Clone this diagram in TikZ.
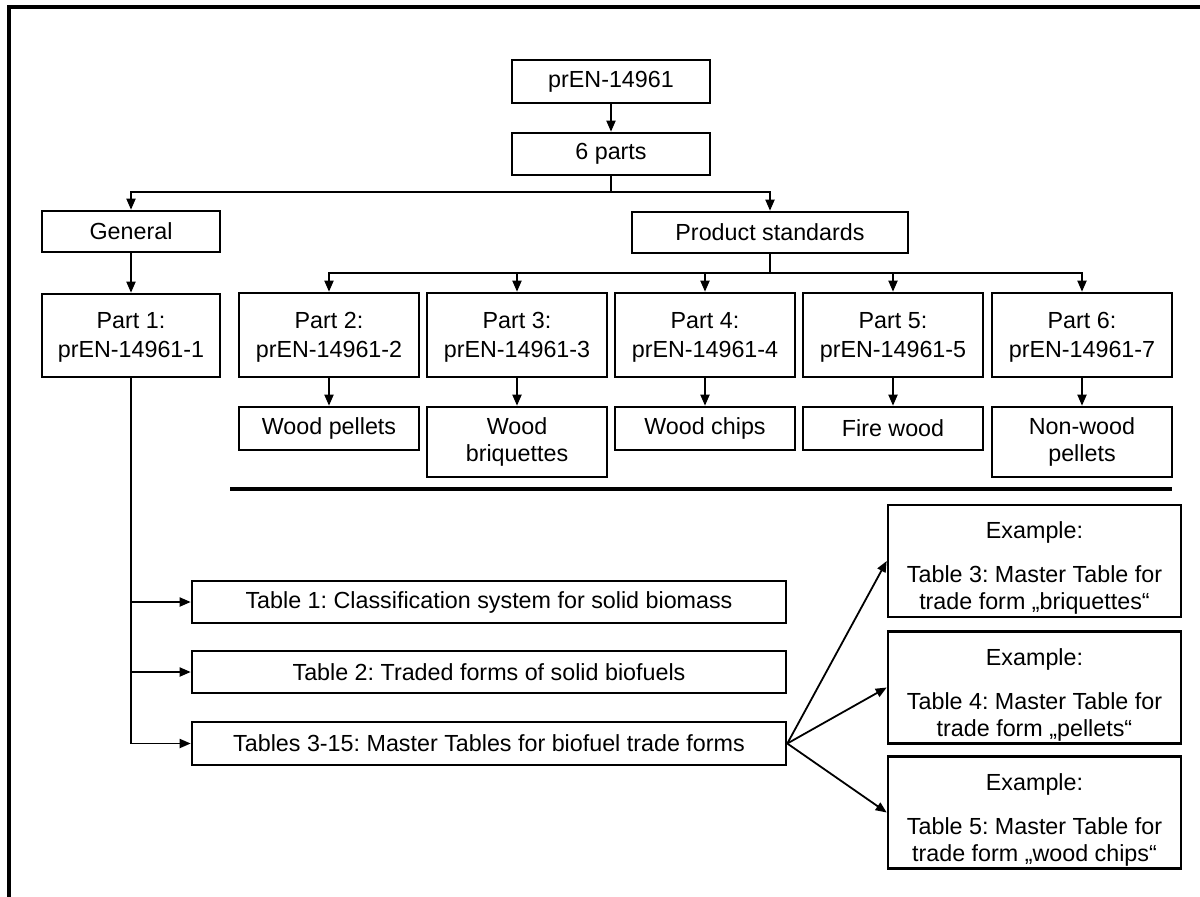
\documentclass[tikz,border=0pt]{standalone}
\usepackage{fontspec}
\setmainfont{Liberation Sans}
\usetikzlibrary{arrows.meta}
\frenchspacing
\begin{document}
\begin{tikzpicture}[x=1pt,y=-1pt,
  box/.style={draw,line width=2.6pt,inner sep=0pt,align=center,font=\fontsize{23.3}{27}\selectfont},
  conn/.style={line width=1.8pt},
  arr/.style={conn,-{Triangle[length=11pt,width=9pt]}},
  thickline/.style={line width=4.5pt}]
\useasboundingbox (0,0) rectangle (1200,897);
\draw[line width=4pt] (9,897) -- (9,7) -- (1200,7);
% top
\node[box,minimum width=198pt,minimum height=43pt] (top) at (611,81.5) {prEN-14961};
\node[box,minimum width=198pt,minimum height=42pt] (six) at (611,154) {6 parts};
\node[box,minimum width=178pt,minimum height=41pt] (general) at (131,231.5) {General};
\node[box,minimum width=276pt,minimum height=41pt] (prod) at (770,232.5) {Product standards};
% parts
\node[box,minimum width=178pt,minimum height=83pt] (part1) at (131,335.5) {\rule{0pt}{20pt}Part 1:\\[2pt]prEN-14961-1};
\node[box,minimum width=180pt,minimum height=84pt] (part2) at (329,335) {\rule{0pt}{20pt}Part 2:\\[2pt]prEN-14961-2};
\node[box,minimum width=180pt,minimum height=84pt] (part3) at (517,335) {\rule{0pt}{20pt}Part 3:\\[2pt]prEN-14961-3};
\node[box,minimum width=180pt,minimum height=84pt] (part4) at (705,335) {\rule{0pt}{20pt}Part 4:\\[2pt]prEN-14961-4};
\node[box,minimum width=180pt,minimum height=84pt] (part5) at (893,335) {\rule{0pt}{20pt}Part 5:\\[2pt]prEN-14961-5};
\node[box,minimum width=180pt,minimum height=84pt] (part6) at (1082,335) {\rule{0pt}{20pt}Part 6:\\[2pt]prEN-14961-7};
% leaves
\node[box,minimum width=180pt,minimum height=43pt] (leaf2) at (329,428.5) {Wood pellets};
\node[box,minimum width=180pt,minimum height=70pt] (leaf3) at (517,442) {Wood\\briquettes};
\node[box,minimum width=180pt,minimum height=43pt] (leaf4) at (705,428.5) {Wood chips};
\node[box,minimum width=180pt,minimum height=43pt] (leaf5) at (893,428.5) {Fire wood};
\node[box,minimum width=180pt,minimum height=70pt] (leaf6) at (1082,442) {Non-wood\\pellets};
% thick rule
\coordinate (r1) at (230,489);
\coordinate (r2) at (1172,489);
\draw[thickline] (r1) -- (r2);
% tables
\node[box,minimum width=594pt,minimum height=42pt] (t1) at (489,602) {Table 1: Classification system for solid biomass};
\node[box,minimum width=594pt,minimum height=42pt] (t2) at (489,672) {Table 2: Traded forms of solid biofuels};
\node[box,minimum width=594pt,minimum height=43pt] (t3) at (489,743.5) {Tables 3-15: Master Tables for biofuel trade forms};
% examples
\node[box,minimum width=293pt,minimum height=112pt] (ex1) at (1034.5,561) {\rule{0pt}{31pt}Example:\\[17pt]Table 3: Master Table for\\trade form „briquettes“};
\node[box,minimum width=293pt,minimum height=112pt] (ex2) at (1034.5,687.5) {\rule{0pt}{31pt}Example:\\[17pt]Table 4: Master Table for\\trade form „pellets“};
\node[box,minimum width=293pt,minimum height=112pt] (ex3) at (1034.5,812.5) {\rule{0pt}{31pt}Example:\\[17pt]Table 5: Master Table for\\trade form „wood chips“};
% connectors
\draw[arr] (top) -- (six);
\coordinate (j1) at (611,192);
\draw[conn] (six.south) -- (j1);
\draw[arr] (j1) -| (general.north);
\draw[arr] (j1) -| (prod.north);
\draw[arr] (general) -- (part1);
\coordinate (j2) at (770,273);
\draw[conn] (prod.south) -- (j2);
\draw[arr] (j2) -| (part2.north);
\draw[arr] (j2) -| (part3.north);
\draw[arr] (j2) -| (part4.north);
\draw[arr] (j2) -| (part5.north);
\draw[arr] (j2) -| (part6.north);
\draw[arr] (part2) -- (leaf2);
\draw[arr] (part3) -- (leaf3);
\draw[arr] (part4) -- (leaf4);
\draw[arr] (part5) -- (leaf5);
\draw[arr] (part6) -- (leaf6);
\draw[arr] (part1.south) |- (t3.west);
\draw[arr] (part1.south |- t1.west) -- (t1.west);
\draw[arr] (part1.south |- t2.west) -- (t2.west);
\draw[arr] (t3.east) -- (ex1.west);
\draw[arr] (t3.east) -- (ex2.west);
\draw[arr] (t3.east) -- (ex3.west);
\end{tikzpicture}
\end{document}
